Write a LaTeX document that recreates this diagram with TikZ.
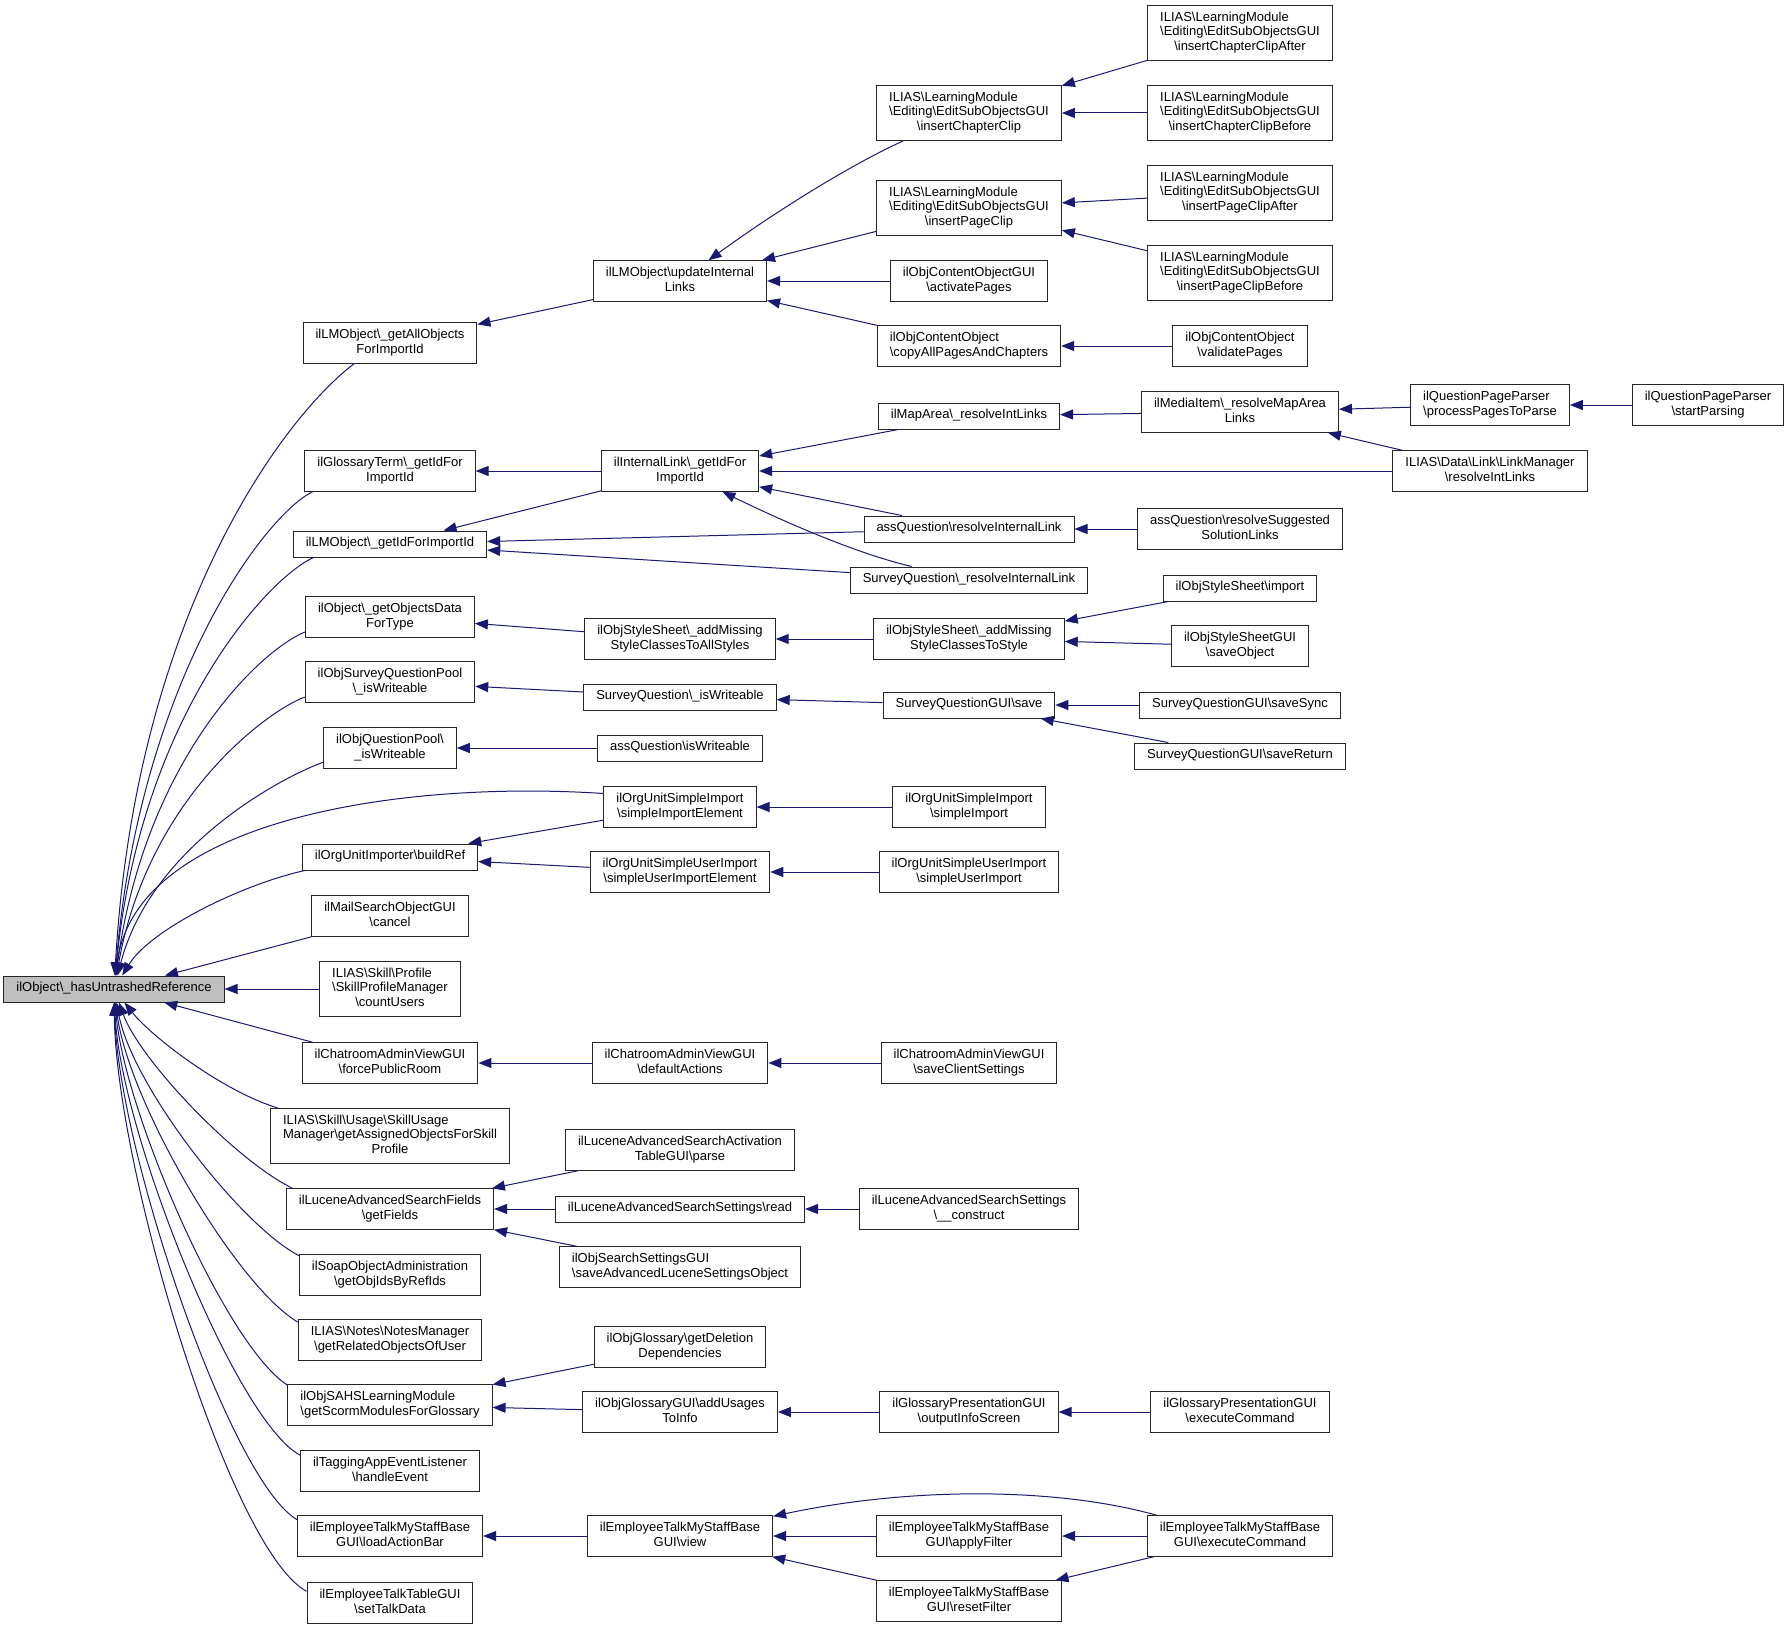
\documentclass[tikz,border=0pt]{standalone}
\usepackage{fontspec}
\setmainfont{Liberation Sans}
\usetikzlibrary{arrows.meta}
\definecolor{midblue}{HTML}{191970}
\definecolor{rootgray}{HTML}{BFBFBF}
\newcommand{\bsl}{\textbackslash}
\newcommand{\lbone}[1]{\begin{tabular}{@{}c@{}}#1\end{tabular}}
\newcommand{\lbtwo}[2]{\begin{tabular}{@{}l@{}}#1\\\multicolumn{1}{@{}c@{}}{#2}\end{tabular}}
\tikzset{box/.style = {draw=black!85, line width=1pt, inner xsep=12.5pt, inner ysep=5.75pt, font=\fontsize{13}{14.5}\selectfont}}
\tikzset{edge/.style = {draw=midblue, line width=1pt, -{Triangle[length=13pt,width=10pt]}}}
\begin{document}
\begin{tikzpicture}[x=1pt, y=-1pt]
            \useasboundingbox (0,0) rectangle (1788,1627);
            % root
            \node [box, fill=rootgray] (main) at (114,989) {\lbone{ilObject\bsl\_hasUntrashedReference}};
            % first column
            \node [box] (lmall) at (390,343) {\lbtwo{ilLMObject\bsl\_getAllObjects}{ForImportId}};
            \node [box] (glterm) at (390,471) {\lbtwo{ilGlossaryTerm\bsl\_getIdFor}{ImportId}};
            \node [box] (lmid) at (390,544) {\lbone{ilLMObject\bsl\_getIdForImportId}};
            \node [box] (objdata) at (390,617) {\lbtwo{ilObject\bsl\_getObjectsData}{ForType}};
            \node [box] (sqpool) at (390,682) {\lbtwo{ilObjSurveyQuestionPool}{\bsl\_isWriteable}};
            \node [box] (qpool) at (390,748) {\lbtwo{ilObjQuestionPool\bsl}{\_isWriteable}};
            \node [box] (buildref) at (390,857) {\lbone{ilOrgUnitImporter\bsl buildRef}};
            \node [box] (mailcancel) at (390,916) {\lbtwo{ilMailSearchObjectGUI}{\bsl cancel}};
            \node [box] (skillprof) at (390,989) {\lbtwo{ILIAS\bsl Skill\bsl Profile\\\bsl SkillProfileManager}{\bsl countUsers}};
            \node [box] (chatforce) at (390,1063) {\lbtwo{ilChatroomAdminViewGUI}{\bsl forcePublicRoom}};
            \node [box] (skillusage) at (390,1136) {\lbtwo{ILIAS\bsl Skill\bsl Usage\bsl SkillUsage\\Manager\bsl getAssignedObjectsForSkill}{Profile}};
            \node [box] (lucfields) at (390,1209) {\lbtwo{ilLuceneAdvancedSearchFields}{\bsl getFields}};
            \node [box] (soap) at (390,1275) {\lbtwo{ilSoapObjectAdministration}{\bsl getObjIdsByRefIds}};
            \node [box] (notes) at (390,1340) {\lbtwo{ILIAS\bsl Notes\bsl NotesManager}{\bsl getRelatedObjectsOfUser}};
            \node [box] (sahs) at (390,1405) {\lbtwo{ilObjSAHSLearningModule}{\bsl getScormModulesForGlossary}};
            \node [box] (tagging) at (390,1471) {\lbtwo{ilTaggingAppEventListener}{\bsl handleEvent}};
            \node [box] (emload) at (390,1536) {\lbtwo{ilEmployeeTalkMyStaffBase}{GUI\bsl loadActionBar}};
            \node [box] (emtable) at (390,1603) {\lbtwo{ilEmployeeTalkTableGUI}{\bsl setTalkData}};
            % second column
            \node [box] (updlinks) at (680,281) {\lbtwo{ilLMObject\bsl updateInternal}{Links}};
            \node [box] (intlink) at (680,471) {\lbtwo{ilInternalLink\bsl\_getIdFor}{ImportId}};
            \node [box] (allstyles) at (680,639) {\lbtwo{ilObjStyleSheet\bsl\_addMissing}{StyleClassesToAllStyles}};
            \node [box] (sqwrite) at (680,697) {\lbone{SurveyQuestion\bsl\_isWriteable}};
            \node [box] (aqwrite) at (680,748) {\lbone{assQuestion\bsl isWriteable}};
            \node [box] (simpelem) at (680,807) {\lbtwo{ilOrgUnitSimpleImport}{\bsl simpleImportElement}};
            \node [box] (suelem) at (680,872) {\lbtwo{ilOrgUnitSimpleUserImport}{\bsl simpleUserImportElement}};
            \node [box] (chatdef) at (680,1063) {\lbtwo{ilChatroomAdminViewGUI}{\bsl defaultActions}};
            \node [box] (lucparse) at (680,1150) {\lbtwo{ilLuceneAdvancedSearchActivation}{TableGUI\bsl parse}};
            \node [box] (lucread) at (680,1209) {\lbone{ilLuceneAdvancedSearchSettings\bsl read}};
            \node [box] (lucsave) at (680,1267) {\lbtwo{ilObjSearchSettingsGUI}{\bsl saveAdvancedLuceneSettingsObject}};
            \node [box] (gldel) at (680,1347) {\lbtwo{ilObjGlossary\bsl getDeletion}{Dependencies}};
            \node [box] (glusage) at (680,1412) {\lbtwo{ilObjGlossaryGUI\bsl addUsages}{ToInfo}};
            \node [box] (emview) at (680,1536) {\lbtwo{ilEmployeeTalkMyStaffBase}{GUI\bsl view}};
            % third column
            \node [box] (chclip) at (969,113) {\lbtwo{ILIAS\bsl LearningModule\\\bsl Editing\bsl EditSubObjectsGUI}{\bsl insertChapterClip}};
            \node [box] (pgclip) at (969,208) {\lbtwo{ILIAS\bsl LearningModule\\\bsl Editing\bsl EditSubObjectsGUI}{\bsl insertPageClip}};
            \node [box] (actpages) at (969,281) {\lbtwo{ilObjContentObjectGUI}{\bsl activatePages}};
            \node [box] (copyall) at (969,346) {\lbtwo{ilObjContentObject}{\bsl copyAllPagesAndChapters}};
            \node [box] (maparea) at (969,416) {\lbone{ilMapArea\bsl\_resolveIntLinks}};
            \node [box] (aqresolve) at (969,529) {\lbone{assQuestion\bsl resolveInternalLink}};
            \node [box] (sqresolve) at (969,580) {\lbone{SurveyQuestion\bsl\_resolveInternalLink}};
            \node [box] (tostyle) at (969,639) {\lbtwo{ilObjStyleSheet\bsl\_addMissing}{StyleClassesToStyle}};
            \node [box] (sqsave) at (969,705) {\lbone{SurveyQuestionGUI\bsl save}};
            \node [box] (simpimp) at (969,807) {\lbtwo{ilOrgUnitSimpleImport}{\bsl simpleImport}};
            \node [box] (suimp) at (969,872) {\lbtwo{ilOrgUnitSimpleUserImport}{\bsl simpleUserImport}};
            \node [box] (chatsave) at (969,1063) {\lbtwo{ilChatroomAdminViewGUI}{\bsl saveClientSettings}};
            \node [box] (lucconst) at (969,1209) {\lbtwo{ilLuceneAdvancedSearchSettings}{\bsl\_\_construct}};
            \node [box] (outinfo) at (969,1412) {\lbtwo{ilGlossaryPresentationGUI}{\bsl outputInfoScreen}};
            \node [box] (applyf) at (969,1536) {\lbtwo{ilEmployeeTalkMyStaffBase}{GUI\bsl applyFilter}};
            \node [box] (resetf) at (969,1601) {\lbtwo{ilEmployeeTalkMyStaffBase}{GUI\bsl resetFilter}};
            % fourth column
            \node [box] (chafter) at (1240,33) {\lbtwo{ILIAS\bsl LearningModule\\\bsl Editing\bsl EditSubObjectsGUI}{\bsl insertChapterClipAfter}};
            \node [box] (chbefore) at (1240,113) {\lbtwo{ILIAS\bsl LearningModule\\\bsl Editing\bsl EditSubObjectsGUI}{\bsl insertChapterClipBefore}};
            \node [box] (pgafter) at (1240,193) {\lbtwo{ILIAS\bsl LearningModule\\\bsl Editing\bsl EditSubObjectsGUI}{\bsl insertPageClipAfter}};
            \node [box] (pgbefore) at (1240,273) {\lbtwo{ILIAS\bsl LearningModule\\\bsl Editing\bsl EditSubObjectsGUI}{\bsl insertPageClipBefore}};
            \node [box] (validate) at (1240,346) {\lbtwo{ilObjContentObject}{\bsl validatePages}};
            \node [box] (mediaitem) at (1240,412) {\lbtwo{ilMediaItem\bsl\_resolveMapArea}{Links}};
            \node [box] (aqsugg) at (1240,529) {\lbtwo{assQuestion\bsl resolveSuggested}{SolutionLinks}};
            \node [box] (ssimport) at (1240,588) {\lbone{ilObjStyleSheet\bsl import}};
            \node [box] (ssgui) at (1240,646) {\lbtwo{ilObjStyleSheetGUI}{\bsl saveObject}};
            \node [box] (savesync) at (1240,705) {\lbone{SurveyQuestionGUI\bsl saveSync}};
            \node [box] (savereturn) at (1240,756) {\lbone{SurveyQuestionGUI\bsl saveReturn}};
            \node [box] (glexec) at (1240,1412) {\lbtwo{ilGlossaryPresentationGUI}{\bsl executeCommand}};
            \node [box] (emexec) at (1240,1536) {\lbtwo{ilEmployeeTalkMyStaffBase}{GUI\bsl executeCommand}};
            % last columns
            \node [box] (procpages) at (1490,405) {\lbtwo{ilQuestionPageParser}{\bsl processPagesToParse}};
            \node [box] (linkmgr) at (1490,471) {\lbtwo{ILIAS\bsl Data\bsl Link\bsl LinkManager}{\bsl resolveIntLinks}};
            \node [box] (startparse) at (1708,405) {\lbtwo{ilQuestionPageParser}{\bsl startParsing}};

            % callers of the root, above it
            \draw [edge] (lmall.210) .. controls (280,420) and (135,620) .. (main);
            \draw [edge] (glterm.195) .. controls (265,515) and (140,680) .. (main);
            \draw [edge] (lmid.190) .. controls (265,580) and (140,720) .. (main);
            \draw [edge] (objdata.190) .. controls (260,650) and (145,760) .. (main);
            \draw [edge] (sqpool.190) .. controls (265,712) and (148,800) .. (main);
            \draw [edge] (qpool.192) .. controls (275,780) and (150,850) .. (main);
            \draw [edge] (simpelem.170) .. controls (400,780) and (135,820) .. (main);
            \draw [edge] (buildref.189) .. controls (240,885) and (150,930) .. (main);
            \draw [edge] (mailcancel) -- (main);
            \draw [edge] (skillprof) -- (main);
            \draw [edge] (chatforce) -- (main);
            % callers of the root, below it
            \draw [edge] (skillusage.166) .. controls (220,1090) and (150,1035) .. (main);
            \draw [edge] (lucfields.168) .. controls (235,1160) and (140,1060) .. (main);
            \draw [edge] (soap.168) .. controls (240,1225) and (132,1085) .. (main);
            \draw [edge] (notes.169) .. controls (235,1285) and (128,1100) .. (main);
            \draw [edge] (sahs.169) .. controls (225,1345) and (124,1110) .. (main);
            \draw [edge] (tagging.170) .. controls (235,1420) and (120,1130) .. (main);
            \draw [edge] (emload.170) .. controls (230,1480) and (118,1150) .. (main);
            \draw [edge] (emtable.172) .. controls (230,1550) and (116,1170) .. (main);

            % further calls
            \draw [edge] (updlinks) -- (lmall);
            \draw [edge] (chclip.203) .. controls (850,165) and (775,212) .. (updlinks);
            \draw [edge] (pgclip) -- (updlinks);
            \draw [edge] (actpages) -- (updlinks);
            \draw [edge] (copyall) -- (updlinks);
            \draw [edge] (chafter) -- (chclip);
            \draw [edge] (chbefore) -- (chclip);
            \draw [edge] (pgafter) -- (pgclip);
            \draw [edge] (pgbefore) -- (pgclip);
            \draw [edge] (validate) -- (copyall);
            \draw [edge] (intlink) -- (glterm);
            \draw [edge] (intlink) -- (lmid);
            \draw [edge] (aqresolve) -- (lmid);
            \draw [edge] (sqresolve) -- (lmid);
            \draw [edge] (maparea) -- (intlink);
            \draw [edge] (linkmgr) -- (intlink);
            \draw [edge] (aqresolve) -- (intlink);
            \draw [edge] (sqresolve) .. controls (850,552) and (770,515) .. (intlink);
            \draw [edge] (mediaitem) -- (maparea);
            \draw [edge] (procpages) -- (mediaitem);
            \draw [edge] (linkmgr) -- (mediaitem);
            \draw [edge] (startparse) -- (procpages);
            \draw [edge] (aqsugg) -- (aqresolve);
            \draw [edge] (allstyles) -- (objdata);
            \draw [edge] (tostyle) -- (allstyles);
            \draw [edge] (ssimport) -- (tostyle);
            \draw [edge] (ssgui) -- (tostyle);
            \draw [edge] (sqwrite) -- (sqpool);
            \draw [edge] (sqsave) -- (sqwrite);
            \draw [edge] (savesync) -- (sqsave);
            \draw [edge] (savereturn) -- (sqsave);
            \draw [edge] (aqwrite) -- (qpool);
            \draw [edge] (simpelem) -- (buildref);
            \draw [edge] (suelem) -- (buildref);
            \draw [edge] (simpimp) -- (simpelem);
            \draw [edge] (suimp) -- (suelem);
            \draw [edge] (chatdef) -- (chatforce);
            \draw [edge] (chatsave) -- (chatdef);
            \draw [edge] (lucparse) -- (lucfields);
            \draw [edge] (lucread) -- (lucfields);
            \draw [edge] (lucsave) -- (lucfields);
            \draw [edge] (lucconst) -- (lucread);
            \draw [edge] (gldel) -- (sahs);
            \draw [edge] (glusage) -- (sahs);
            \draw [edge] (outinfo) -- (glusage);
            \draw [edge] (glexec) -- (outinfo);
            \draw [edge] (emview) -- (emload);
            \draw [edge] (applyf) -- (emview);
            \draw [edge] (resetf) -- (emview);
            \draw [edge] (emexec.166) .. controls (1060,1488) and (915,1486) .. (emview);
            \draw [edge] (emexec) -- (applyf);
            \draw [edge] (emexec) -- (resetf);
        \end{tikzpicture}
\end{document}
